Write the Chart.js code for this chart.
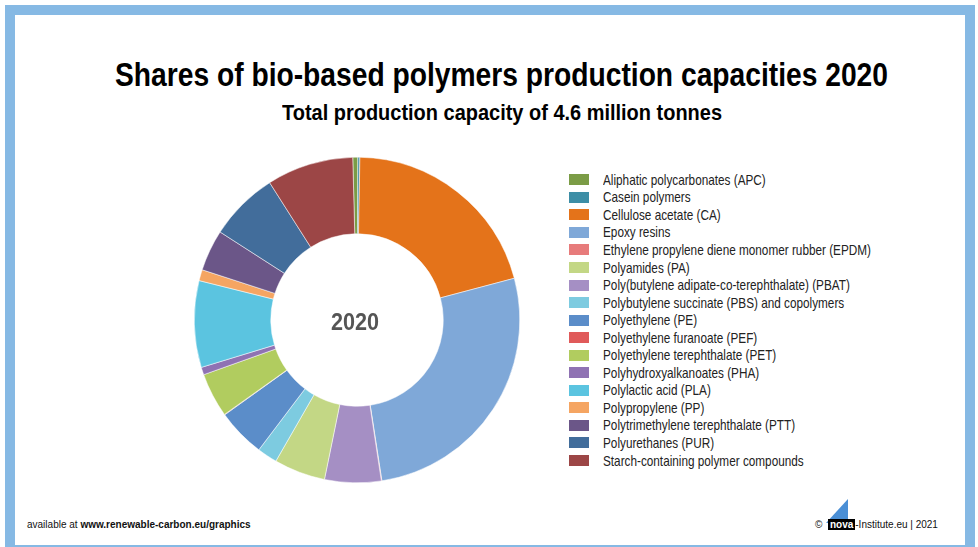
<!DOCTYPE html>
<html>
<head>
<meta charset="utf-8">
<script src="https://cdn.jsdelivr.net/npm/chart.js@4"></script>
<style>
  html, body { margin: 0; padding: 0; background: #fff; }
  body { width: 978px; height: 547px; position: relative; overflow: hidden;
         font-family: 'Liberation Sans', Arial, sans-serif; }
  #frame { position: absolute; left: 5px; top: 5px; width: 950px; height: 530px;
           border: 10px solid #86b9e4; }
  .fit { position: absolute; margin: 0; white-space: nowrap; transform-origin: 0 50%; }
  h1 { top: 55px; font-size: 34px; font-weight: bold; color: #000; }
  h2 { top: 100px; font-size: 22px; font-weight: bold; color: #000; }
  #chartBox { position: absolute; left: 194px; top: 157px; width: 326px; height: 326px; }
  #legend { position: absolute; left: 569px; top: 171px; }
  .row { height: 17.56px; display: flex; align-items: center; font-size: 14.5px; color: #222; }
  .box { width: 20px; height: 11px; margin-right: 14px; flex: none; }
  .label { white-space: nowrap; display: inline-block; transform-origin: 0 50%; }
  .foot { position: absolute; top: 519px; font-size: 10px; color: #111; }
  .nova { display: inline-block; background: #000; color: #fff; padding: 0 2px; font-weight: bold; }
  .sail { position: absolute; left: 829px; top: 499px; width: 0; height: 0;
          border-left: 16px solid transparent; border-right: 6px solid transparent;
          border-bottom: 24px solid #4a8fd6; transform: skewX(-14deg); }
</style>
</head>
<body>
<div id="frame"></div>
<h1 class="fit" data-left="115" data-width="773">Shares of bio-based polymers production capacities 2020</h1>
<h2 class="fit" data-left="282" data-width="440">Total production capacity of 4.6 million tonnes</h2>
<div id="chartBox"><canvas id="myChart" width="326" height="326"></canvas></div>
<div id="legend"></div>
<div class="foot" style="left:27px;">available at <b>www.renewable-carbon.eu/graphics</b></div>
<div class="sail"></div>
<div class="foot" style="left:815px;">&copy; &nbsp;<span class="nova">nova</span>-Institute.eu | 2021</div>

<script>
const polymers = [
  'Aliphatic polycarbonates (APC)',
  'Casein polymers',
  'Cellulose acetate (CA)',
  'Epoxy resins',
  'Ethylene propylene diene monomer rubber (EPDM)',
  'Polyamides (PA)',
  'Poly(butylene adipate-co-terephthalate) (PBAT)',
  'Polybutylene succinate (PBS) and copolymers',
  'Polyethylene (PE)',
  'Polyethylene furanoate (PEF)',
  'Polyethylene terephthalate (PET)',
  'Polyhydroxyalkanoates (PHA)',
  'Polylactic acid (PLA)',
  'Polypropylene (PP)',
  'Polytrimethylene terephthalate (PTT)',
  'Polyurethanes (PUR)',
  'Starch-containing polymer compounds'
];

// share of 2020 capacity, %
const shares = [0.5, 0.2, 20.6, 26.7, 0.05, 5.1, 5.6, 2.0, 4.8, 0.05, 4.4, 0.75, 8.6, 1.1, 4.1, 6.9, 8.6];

const colors = [
  '#7b9c46', '#3d8ea6', '#e4731a', '#7fa8d8', '#e77b7b', '#c3d785',
  '#a58fc4', '#7dcbe0', '#5b8dc9', '#e05a5a', '#b1cc5f', '#8f72b3',
  '#5bc4e0', '#f5a562', '#6b5688', '#426d9b', '#9c4646'
];

const centerYear = '2020';

// the slice order on the ring differs from the legend for PA / PBAT
const ringOrder = [0, 1, 2, 3, 4, 6, 5, 7, 8, 9, 10, 11, 12, 13, 14, 15, 16];

// squeeze headings into a condensed look
document.querySelectorAll('.fit').forEach(el => {
  const w = el.getBoundingClientRect().width;
  const target = +el.dataset.width;
  el.style.left = el.dataset.left + 'px';
  el.style.transform = 'scaleX(' + (target / w) + ')';
});

const legendEl = document.getElementById('legend');
const labelEls = [];
polymers.forEach((name, i) => {
  const row = document.createElement('div');
  row.className = 'row';
  row.innerHTML = '<span class="box" style="background:' + colors[i] + '"></span><span class="label">' + name + '</span>';
  legendEl.appendChild(row);
  labelEls.push(row.querySelector('.label'));
});
// longest label (EPDM) is 268px wide
const widest = labelEls[4].getBoundingClientRect().width;
labelEls.forEach(el => el.style.transform = 'scaleX(' + (268 / widest) + ')');

const centerText = {
  id: 'centerText',
  afterDraw(chart) {
    const ctx = chart.ctx;
    const arc = chart.getDatasetMeta(0).data[0];
    ctx.save();
    ctx.font = "bold 24px 'Liberation Sans', Arial, sans-serif";
    ctx.fillStyle = '#555';
    ctx.textBaseline = 'middle';
    const w = ctx.measureText(centerYear).width;
    ctx.translate(arc.x - 2, arc.y + 3);
    ctx.scale(48 / w, 1);
    ctx.textAlign = 'center';
    ctx.fillText(centerYear, 0, 0);
    ctx.restore();
  }
};

const data = {
  labels: ringOrder.map(i => polymers[i]),
  datasets: [{
    data: ringOrder.map(i => shares[i]),
    backgroundColor: ringOrder.map(i => colors[i]),
    borderColor: '#ffffff',
    borderWidth: 0.5
  }]
};

const config = {
  type: 'doughnut',
  data: data,
  options: {
    responsive: false,
    animation: false,
    cutout: '53%',
    rotation: -1.5,
    layout: { padding: 0 },
    plugins: {
      legend: { display: false },
      tooltip: { enabled: false }
    }
  },
  plugins: [centerText]
};

const myChart = new Chart(document.getElementById('myChart'), config);
</script>
</body>
</html>
